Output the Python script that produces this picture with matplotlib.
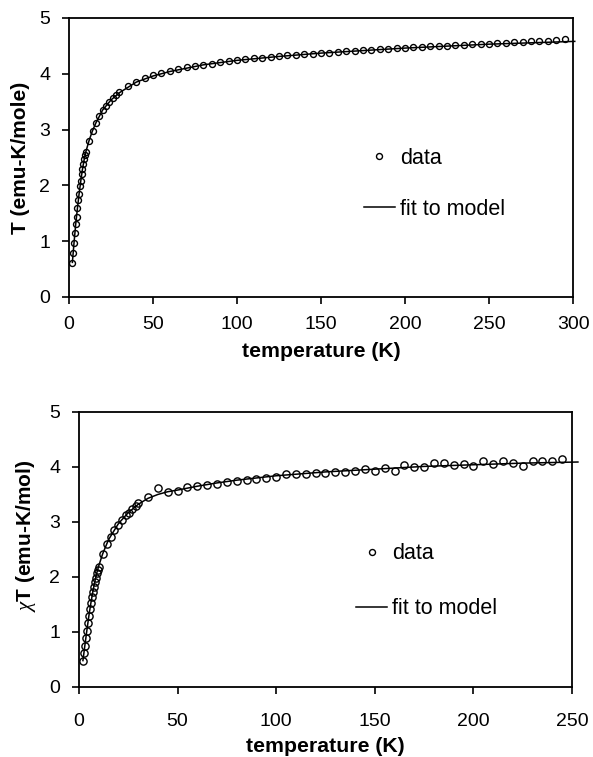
import numpy as np
import matplotlib
matplotlib.use('Agg')
import matplotlib.pyplot as plt
from matplotlib.lines import Line2D

plt.rcParams['font.family'] = ['Liberation Sans', 'DejaVu Sans']
plt.rcParams['mathtext.fontset'] = 'custom'
plt.rcParams['mathtext.rm'] = 'Liberation Serif'
plt.rcParams['mathtext.it'] = 'Liberation Serif:italic'

# top panel: chi*T vs T (first sample)
t_top = [2, 2.5, 3, 3.5, 4, 4.5, 5, 5.5, 6, 6.5, 7, 7.5, 8, 8.5, 9, 9.5, 10,
         12, 14, 16, 18, 20, 22, 24, 26, 28, 30,
         35, 40, 45, 50, 55, 60, 65, 70, 75, 80, 85, 90, 95, 100,
         105, 110, 115, 120, 125, 130, 135, 140, 145, 150,
         155, 160, 165, 170, 175, 180, 185, 190, 195, 200,
         205, 210, 215, 220, 225, 230, 235, 240, 245, 250,
         255, 260, 265, 270, 275, 280, 285, 290, 295]
chi_top = [0.61, 0.79, 0.97, 1.15, 1.31, 1.44, 1.59, 1.73, 1.85, 1.98, 2.08, 2.20, 2.30, 2.38, 2.47, 2.54, 2.59,
           2.80, 2.98, 3.12, 3.25, 3.35, 3.43, 3.50, 3.56, 3.62, 3.67,
           3.78, 3.86, 3.92, 3.97, 4.01, 4.05, 4.08, 4.12, 4.14, 4.16, 4.18, 4.21, 4.23, 4.25,
           4.26, 4.28, 4.29, 4.30, 4.31, 4.33, 4.34, 4.35, 4.36, 4.37,
           4.38, 4.39, 4.40, 4.41, 4.42, 4.43, 4.44, 4.45, 4.46, 4.47,
           4.48, 4.48, 4.49, 4.50, 4.50, 4.51, 4.52, 4.53, 4.53, 4.54,
           4.55, 4.55, 4.56, 4.57, 4.58, 4.59, 4.59, 4.61, 4.62]
t_fit_top = [2, 3, 4, 5, 6, 7, 8, 9, 10, 12, 14, 16, 20, 25, 30, 40, 50, 60, 80, 100,
             125, 150, 200, 250, 301]
fit_top = [0.62, 0.98, 1.31, 1.59, 1.85, 2.08, 2.29, 2.46, 2.60, 2.81, 2.98, 3.12, 3.35, 3.53, 3.66,
           3.85, 3.96, 4.04, 4.16, 4.24, 4.31, 4.37, 4.46, 4.53, 4.58]

# bottom panel: chi*T vs T (second sample)
t_bot = [2, 2.5, 3, 3.5, 4, 4.5, 5, 5.5, 6, 6.5, 7, 7.5, 8, 8.5, 9, 9.5, 10,
         12, 14, 16, 18, 20, 22, 24, 25.5, 27, 28.8, 30,
         35, 40, 45, 50, 55, 60, 65, 70, 75, 80, 85, 90, 95, 100,
         105, 110, 115, 120, 125, 130, 135, 140, 145, 150,
         155, 160, 165, 170, 175, 180, 185, 190, 195, 200,
         205, 210, 215, 220, 225, 230, 235, 240, 245]
chi_bot = [0.48, 0.61, 0.75, 0.89, 1.02, 1.16, 1.29, 1.41, 1.52, 1.63, 1.73, 1.82, 1.90, 1.99, 2.07, 2.13, 2.19,
           2.42, 2.60, 2.73, 2.85, 2.95, 3.04, 3.12, 3.17, 3.23, 3.29, 3.34,
           3.45, 3.61, 3.55, 3.57, 3.63, 3.65, 3.67, 3.69, 3.73, 3.75, 3.76, 3.78, 3.80, 3.81,
           3.87, 3.87, 3.87, 3.89, 3.89, 3.91, 3.91, 3.93, 3.96, 3.93,
           3.99, 3.93, 4.04, 4.00, 4.00, 4.08, 4.08, 4.04, 4.05, 4.01,
           4.10, 4.05, 4.10, 4.08, 4.02, 4.11, 4.11, 4.11, 4.15]
t_fit_bot = [2, 3, 4, 5, 6, 7, 8, 9, 10, 12, 15, 20, 25, 30, 35, 40, 45, 50, 60, 70, 80,
             100, 125, 150, 175, 200, 225, 253]
fit_bot = [0.48, 0.76, 1.03, 1.29, 1.52, 1.73, 1.91, 2.07, 2.20, 2.42, 2.68, 2.97, 3.17, 3.32,
           3.43, 3.50, 3.55, 3.58, 3.65, 3.71, 3.76, 3.84, 3.91, 3.96, 4.01, 4.04, 4.07, 4.09]

fig = plt.figure(figsize=(5.93, 7.57), dpi=100)
ax1 = fig.add_axes([0.1164, 0.6077, 0.850, 0.3686])
ax2 = fig.add_axes([0.1332, 0.0925, 0.8314, 0.3633])


def style(ax, xmax, ylabel, ms, leg_xy, spacing, xpad, lpad):
    ax.set_xlim(0, xmax)
    ax.set_ylim(0, 5)
    ax.set_xticks(np.arange(0, xmax + 1, 50))
    ax.set_yticks(range(6))
    for sp in ax.spines.values():
        sp.set_linewidth(1.3)
    ax.tick_params(direction='out', length=5, width=1.2, labelsize=14, pad=8.5)
    ax.tick_params(axis='x', pad=xpad)
    ax.set_xlabel('temperature (K)', fontsize=15.3, fontweight='bold', labelpad=lpad)
    ax.set_ylabel(ylabel, fontsize=15, fontweight='bold')
    handles = [Line2D([], [], ls='none', marker='o', mfc='none', mec='black', ms=ms, mew=1),
               Line2D([], [], color='black', lw=1.1)]
    ax.legend(handles, ['data', 'fit to model'], loc='center left', bbox_to_anchor=leg_xy,
              frameon=False, fontsize=15.5, handlelength=1.44, handletextpad=0.25,
              labelspacing=spacing, borderpad=0, borderaxespad=0)


ax1.plot(t_fit_top, fit_top, color='black', lw=1.1, clip_on=False)
ax1.plot(t_top, chi_top, ls='none', marker='o', mfc='none', mec='black', ms=4.3, mew=1)
style(ax1, 300, 'T (emu-K/mole)', 4.3, (0.585, 0.405), 1.4, 9, 6)
ax1.yaxis.set_label_coords(-0.077, 0.5)

ax2.plot(t_fit_bot, fit_bot, color='black', lw=1.1, clip_on=False)
ax2.plot(t_bot, chi_bot, ls='none', marker='o', mfc='none', mec='black', ms=5.2, mew=1)
style(ax2, 250, r'$\chi$T (emu-K/mol)', 4.3, (0.562, 0.384), 1.59, 14, 4.5)
ax2.yaxis.set_label_coords(-0.083, 0.55)

fig.savefig('out.png', dpi=100)
